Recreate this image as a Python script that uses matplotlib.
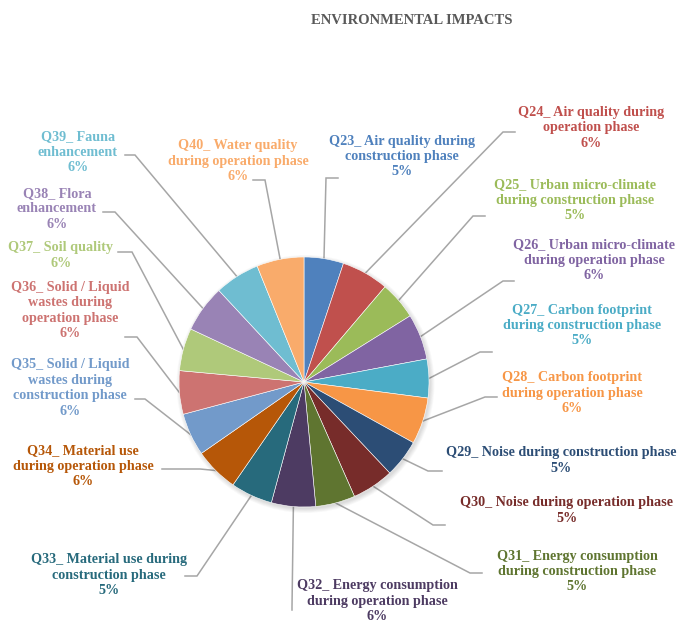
import numpy as np
import matplotlib
matplotlib.use("Agg")
import matplotlib.pyplot as plt
from matplotlib.patches import Circle

# ---------------- data ----------------
names = [
    "Q23_ Air quality during\nconstruction phase",
    "Q24_ Air quality during\noperation phase",
    "Q25_ Urban micro-climate\nduring construction phase",
    "Q26_ Urban micro-climate\nduring operation phase",
    "Q27_ Carbon footprint\nduring construction phase",
    "Q28_ Carbon footprint\nduring operation phase",
    "Q29_ Noise during construction phase",
    "Q30_ Noise during operation phase",
    "Q31_ Energy consumption\nduring construction phase",
    "Q32_ Energy consumption\nduring operation phase",
    "Q33_ Material use during\nconstruction phase",
    "Q34_ Material use\nduring operation phase",
    "Q35_ Solid / Liquid\nwastes during\nconstruction phase",
    "Q36_ Solid / Liquid\nwastes during\noperation phase",
    "Q37_ Soil quality",
    "Q38_ Flora\nenhancement",
    "Q39_ Fauna\nenhancement",
    "Q40_ Water quality\nduring operation phase",
]
values = [5.1, 6.1, 4.9, 5.9, 5.0, 6.0, 4.9, 5.4, 5.1,
          5.7, 5.4, 5.7, 5.5, 5.6, 5.5, 6.1, 5.8, 6.1]
pct_labels = ["5%", "6%", "5%", "6%", "5%", "6%", "5%", "5%", "5%",
              "6%", "5%", "6%", "6%", "6%", "6%", "6%", "6%", "6%"]
title = "ENVIRONMENTAL IMPACTS"

# ---------------- style / layout ----------------
colors = ["#4F81BD", "#C0504D", "#9BBB59", "#8064A2", "#4BACC6", "#F79646",
          "#2C4D75", "#772C2A", "#5F7530", "#4D3B62", "#276A7C", "#B65708",
          "#729ACA", "#CD7371", "#AFC97A", "#9983B5", "#6FBDD1", "#F9AB6B"]

W, H = 685, 623
center = (304, 382)
radius = 125

label_pos = [(402, 156.5), (591, 128), (575, 200.5), (594, 260.5), (582, 325.5),
             (572, 393), (561, 460.5), (567, 510.5), (577, 571.5), (377, 601),
             (109, 575), (83, 466.5), (70, 388), (70, 310.5), (61, 255.5),
             (57, 209), (78, 152.5), (238, 161)]
elbows = [(326, 178), (503, 132), (473, 216), (503, 281), (480, 352),
          (485, 397), (428, 471), (433, 525), (470, 573), (292, 607),
          (197, 576), (200, 469), (145, 399), (137, 337), (132, 252),
          (115, 212), (135, 155), (265, 180)]
ends = [(338, 178), (515, 132), (485, 216), (514, 281), (492, 352),
        (497, 397), (442, 471), (445, 525), (482, 573), (292, 610),
        (185, 576), (162, 469), (135, 399), (125, 337), (118, 252),
        (103, 212), (125, 155), (253, 180)]

font = "Liberation Serif"

fig = plt.figure(figsize=(W / 100, H / 100), dpi=100)
ax = fig.add_axes([0, 0, 1, 1])

# soft shadow behind the pie
for k in range(6):
    ax.add_patch(Circle((center[0] + 1.5, center[1] + 2), radius + 4 - k * 0.8,
                        facecolor="#000000", alpha=0.025, edgecolor="none",
                        zorder=0.5))

wedges, _ = ax.pie(values, colors=colors, startangle=-90, counterclock=True,
                   center=center, radius=radius,
                   wedgeprops=dict(linewidth=0.4, edgecolor="white", zorder=1))
ax.set_xlim(0, W)
ax.set_ylim(H, 0)
ax.set_aspect("equal")
ax.axis("off")

for i, w in enumerate(wedges):
    mid = np.deg2rad((w.theta1 + w.theta2) / 2)
    sx = center[0] + radius * np.cos(mid)
    sy = center[1] + radius * np.sin(mid)
    ex, ey = elbows[i]
    tx, ty = ends[i]
    ax.plot([sx, ex, tx], [sy, ey, ty], color="#A6A6A6", lw=1.1,
            solid_joinstyle="miter", zorder=0.2)
    lx, ly = label_pos[i]
    ax.text(lx, ly, names[i] + "\n" + pct_labels[i], ha="center", va="center",
            multialignment="center", color=colors[i], fontsize=10.2,
            fontweight="bold", family=font, linespacing=1.24)

ax.text(411.5, 20, title, ha="center", va="center", color="#595959",
        fontsize=10.5, fontweight="bold", family=font)

fig.savefig("out.png", dpi=100)
